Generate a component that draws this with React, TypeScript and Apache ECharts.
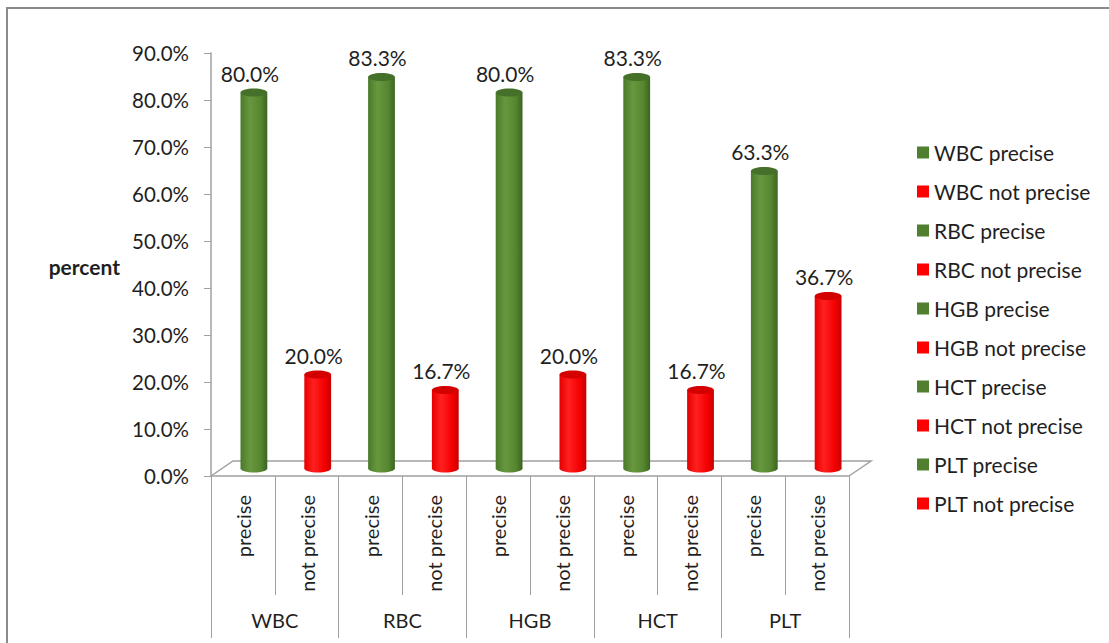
import React, { useEffect, useRef } from "react";
import * as echarts from "echarts";

// ---- data ----
const groups = ["WBC", "RBC", "HGB", "HCT", "PLT"];
const subLabels = [
  "precise", "not precise",
  "precise", "not precise",
  "precise", "not precise",
  "precise", "not precise",
  "precise", "not precise",
];
const seriesNames = [
  "WBC precise", "WBC not precise",
  "RBC precise", "RBC not precise",
  "HGB precise", "HGB not precise",
  "HCT precise", "HCT not precise",
  "PLT precise", "PLT not precise",
];
const values = [80.0, 20.0, 83.3, 16.7, 80.0, 20.0, 83.3, 16.7, 63.3, 36.7];
const yMax = 90;
const yInterval = 10;
const yAxisTitle = "percent";

// ---- layout ----
const W = 1109;
const H = 643;
const GRID_L = 211;
const GRID_T = 53;
const GRID_R = 849;
const GRID_B = 476;
const DEPTH_X = 22;
const DEPTH_Y = -15;
const FONT = "Lato, 'Open Sans', sans-serif";
const TEXT = "#1f1f1f";
const AXIS = "#a0a0a0";

const GREEN = "#4f7f2f";
const RED = "#ff0000";

function bodyGradient(green: boolean) {
  return new echarts.graphic.LinearGradient(0, 0, 1, 0, green
    ? [
        { offset: 0, color: "#4a7a29" },
        { offset: 0.35, color: "#67983f" },
        { offset: 0.75, color: "#56862f" },
        { offset: 1, color: "#3c6420" },
      ]
    : [
        { offset: 0, color: "#e60000" },
        { offset: 0.35, color: "#ff2020" },
        { offset: 0.75, color: "#f50000" },
        { offset: 1, color: "#c80000" },
      ]);
}

function makeRender(green: boolean) {
  return (params: any, api: any) => {
    const idx = api.value(0);
    const v = api.value(1);
    const base = api.coord([idx, 0]);
    const top = api.coord([idx, v]);
    const band = api.size([1, 0])[0];
    const w = band * 0.42;
    const rx = w / 2;
    const ry = 4;
    const cx = base[0] + DEPTH_X / 2;
    const by = base[1] + DEPTH_Y / 2;
    const ty = top[1] + DEPTH_Y / 2;
    return {
      type: "group",
      children: [
        { type: "ellipse", shape: { cx, cy: by, rx, ry }, style: { fill: bodyGradient(green) } },
        { type: "rect", shape: { x: cx - rx, y: ty, width: w, height: by - ty }, style: { fill: bodyGradient(green) } },
        {
          type: "ellipse",
          shape: { cx, cy: ty, rx, ry },
          style: { fill: green ? "#44702a" : "#d40000" },
        },
        {
          type: "text",
          style: {
            text: v.toFixed(1) + "%",
            x: cx - 4,
            y: ty - 9,
            align: "center",
            verticalAlign: "bottom",
            fontSize: 21,
            fontFamily: FONT,
            fill: TEXT,
          },
        },
      ],
    };
  };
}

export default function App() {
  const ref = useRef<HTMLDivElement>(null);
  useEffect(() => {
    if (!ref.current) return;
    const chart = echarts.init(ref.current, undefined, { renderer: "svg" });
    const series = seriesNames.map((name, i) => {
      const green = i % 2 === 0;
      return {
        type: "custom",
        name,
        xAxisIndex: 0,
        yAxisIndex: 0,
        itemStyle: { color: green ? GREEN : RED },
        renderItem: makeRender(green),
        data: [[i, values[i]]],
        encode: { x: 0, y: 1 },
        clip: false,
      };
    });
    chart.setOption({
      animation: false,
      backgroundColor: "#ffffff",
      textStyle: { fontFamily: FONT },
      grid: {
        left: GRID_L,
        top: GRID_T,
        width: GRID_R - GRID_L,
        height: GRID_B - GRID_T,
        containLabel: false,
      },
      legend: {
        orient: "vertical",
        left: 917,
        top: 142,
        padding: 0,
        itemWidth: 12,
        itemHeight: 12,
        itemGap: 18,
        icon: "rect",
        data: seriesNames,
        textStyle: { fontSize: 21, lineHeight: 20, color: TEXT, fontFamily: FONT },
        selectedMode: false,
      },
      xAxis: [
        {
          type: "category",
          position: "bottom",
          data: seriesNames,
          boundaryGap: true,
          axisLine: { show: true, lineStyle: { color: AXIS, width: 1.5 } },
          axisTick: { show: true, length: 119, interval: 0, lineStyle: { color: AXIS, width: 1 } },
          axisLabel: {
            interval: 0,
            rotate: 90,
            margin: 19,
            fontSize: 20,
            color: TEXT,
            fontFamily: FONT,
            formatter: (_v: string, i: number) => subLabels[i],
          },
          splitLine: { show: false },
        },
        {
          type: "category",
          position: "bottom",
          data: groups,
          boundaryGap: true,
          axisLine: { show: false },
          axisTick: { show: true, length: 162, interval: 0, lineStyle: { color: AXIS, width: 1 } },
          axisLabel: {
            interval: 0,
            margin: 134,
            fontSize: 20,
            color: TEXT,
            fontFamily: FONT,
          },
          splitLine: { show: false },
        },
      ],
      yAxis: {
        type: "value",
        min: 0,
        max: yMax,
        interval: yInterval,
        axisLine: { show: true, lineStyle: { color: AXIS, width: 1.5 } },
        axisTick: { show: true, length: 7, lineStyle: { color: AXIS } },
        splitLine: { show: false },
        axisLabel: {
          margin: 22,
          fontSize: 20.5,
          color: TEXT,
          fontFamily: FONT,
          formatter: (v: number) => v.toFixed(1) + "%",
        },
      },
      graphic: [
        {
          type: "polyline",
          shape: { points: [[7, H], [7, 8], [W, 8]] },
          style: { stroke: "#8a8a8a", lineWidth: 2, fill: "none" },
          silent: true,
        },
        {
          type: "polyline",
          shape: {
            points: [
              [GRID_L, GRID_B],
              [GRID_L + DEPTH_X, GRID_B + DEPTH_Y],
              [GRID_R + DEPTH_X, GRID_B + DEPTH_Y],
              [GRID_R, GRID_B],
            ],
          },
          style: { stroke: AXIS, lineWidth: 1.5, fill: "none" },
          silent: true,
          z: -1,
        },
        {
          type: "text",
          x: 120,
          y: 266,
          style: {
            text: yAxisTitle,
            align: "right",
            verticalAlign: "middle",
            fontSize: 21,
            fontWeight: "bold",
            fill: TEXT,
            fontFamily: FONT,
          },
        },
      ],
      series,
    });
    return () => chart.dispose();
  }, []);
  return (
    <div
      ref={ref}
      style={{ position: "absolute", left: 0, top: 0, width: W, height: H, background: "#fff" }}
    />
  );
}
